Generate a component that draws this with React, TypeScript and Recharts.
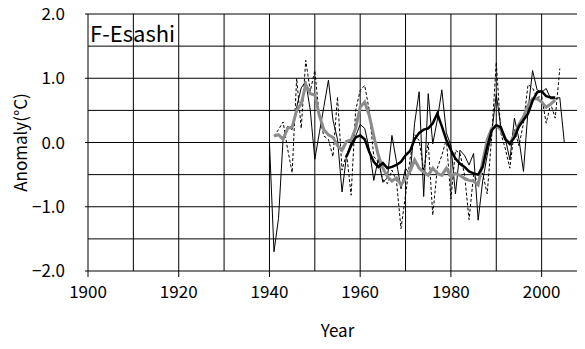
import { LineChart, Line, XAxis, YAxis, ReferenceLine } from "recharts";

const FONT = '"Noto Sans CJK JP", "DejaVu Sans", sans-serif';

// thin solid line: yearly anomaly, 1940-2005
const solidStart = 1940;
const solidAnnual = [
  0.0, -1.7, -1.18, 0.05, 0.25, 0.2, 0.55, 0.85, 0.95, 0.5,
  -0.26, 0.15, 0.56, 0.97, 0.35, 0.05, -0.77, -0.2, 0.0, 0.1,
  0.28, 0.22, -0.1, -0.59, -0.25, -0.62, -0.55, 0.11, -0.3, -0.72,
  -0.4, -0.5, 0.3, 0.79, -0.84, 0.76, -0.02, 0.35, 0.82, 0.15,
  -0.05, -0.8, -0.12, -0.2, -0.35, -0.17, -1.21, -0.6, -0.2, 0.15,
  0.75, 0.25, 0.06, -0.27, 0.38, 0.05, -0.45, 0.5, 1.12, 0.82,
  0.78, 0.84, 0.68, 0.68, 0.7, 0.0,
];

// thin dashed line: yearly anomaly, 1941-2004
const dashedStart = 1941;
const dashedAnnual = [
  0.1, 0.2, 0.32, -0.1, -0.47, 1.0, 0.22, 1.28, 0.8,
  1.12, 0.4, 0.1, 0.05, -0.22, 0.71, -0.43, -0.17, -0.82, 0.5,
  0.81, 0.89, 0.5, -0.22, -0.3, -0.58, -0.64, -0.43, -0.6, -1.34,
  -0.82, -0.25, 0.12, 0.03, -0.43, 0.0, -1.13, -0.4, -0.2, 0.05,
  -0.88, -0.12, -0.17, -0.5, -1.2, -0.5, -0.62, -0.48, -0.8, 0.1,
  1.25, 0.15, -0.1, -0.4, 0.2, -0.05, 0.3, 0.9, 0.85, 0.7,
  0.72, 0.3, 0.6, 0.38, 1.15,
];

// thick grey line: smoothed dashed series, 1941-2003
const greyStart = 1941;
const greyMean = [
  0.1, 0.12, 0.05, 0.22, 0.24, 0.5, 0.6, 0.9, 0.76,
  0.74, 0.42, 0.2, 0.12, 0.08, -0.05, -0.12, 0.02, 0.04, 0.22,
  0.55, 0.63, 0.42, 0.1, -0.2, -0.4, -0.53, -0.6, -0.55, -0.66,
  -0.56, -0.45, -0.27, -0.4, -0.46, -0.51, -0.4, -0.48, -0.51, -0.4,
  -0.53, -0.48, -0.51, -0.56, -0.59, -0.6, -0.66, -0.3, 0.04, 0.22,
  0.26, 0.2, 0.06, -0.02, 0.12, 0.28, 0.4, 0.58, 0.68, 0.68,
  0.63, 0.55, 0.6, 0.66,
];

// thick black line: smoothed solid series, 1957-2003
const blackStart = 1957;
const blackMean = [
  -0.22, -0.05, 0.08,
  0.11, 0.05, -0.15, -0.3, -0.38, -0.32, -0.4, -0.38, -0.35, -0.3,
  -0.2, -0.13, 0.05, 0.15, 0.2, 0.22, 0.3, 0.45, 0.25, 0.04,
  -0.12, -0.25, -0.33, -0.38, -0.45, -0.48, -0.5, -0.38, -0.07, 0.19,
  0.27, 0.24, 0.05, -0.02, 0.08, 0.25, 0.35, 0.45, 0.65, 0.78,
  0.8, 0.72, 0.7, 0.7,
];

const xTicks = [1900, 1920, 1940, 1960, 1980, 2000];
const yTicks = [-2, -1, 0, 1, 2];
const decadeLines = [1910, 1920, 1930, 1940, 1950, 1960, 1970, 1980, 1990, 2000];
const halfLines = [-1.5, -1, -0.5, 0, 0.5, 1, 1.5, 2];

const pick = (values: number[], start: number, year: number) => {
  const v = values[year - start];
  return v === undefined ? null : v;
};

const rows = [] as Record<string, number | null>[];
for (let year = 1940; year <= 2005; year++) {
  rows.push({
    year,
    solid: pick(solidAnnual, solidStart, year),
    dashed: pick(dashedAnnual, dashedStart, year),
    grey: pick(greyMean, greyStart, year),
    black: pick(blackMean, blackStart, year),
  });
}

const tickStyle = { fontSize: 17, fill: "#000", fontFamily: FONT };
const fmtY = (v: number) => v.toFixed(1).replace("-", "\u2212");

export default function App() {
  return (
    // pull the chart into the page corner so the top tick label is not clipped
    <div
      style={{
        position: "relative",
        margin: "-8px 0 0 -8px",
        width: 585,
        height: 349,
        overflow: "hidden",
      }}
    >
      <LineChart
        width={598}
        height={349}
        data={rows}
        margin={{ top: 14, right: 11, bottom: 0, left: 0 }}
      >
        {halfLines.map((v) => (
          <ReferenceLine key={"h" + v} y={v} stroke="#000" strokeWidth={1} />
        ))}
        {decadeLines.map((yr) => (
          <ReferenceLine key={"v" + yr} x={yr} stroke="#000" strokeWidth={1} />
        ))}
        <XAxis
          dataKey="year"
          type="number"
          domain={[1900, 2010]}
          ticks={xTicks}
          height={78}
          tickSize={6}
          tickMargin={9}
          tick={tickStyle}
          stroke="#000"
          label={{
            value: "Year",
            position: "insideBottom",
            offset: 12,
            style: { fontSize: 17, fill: "#000", fontFamily: FONT },
          }}
        />
        <YAxis
          type="number"
          domain={[-2, 2]}
          ticks={yTicks}
          width={88}
          tickSize={3}
          tickMargin={20}
          tick={tickStyle}
          tickFormatter={fmtY}
          stroke="#000"
          label={{
            value: "Anomaly(°C)",
            angle: -90,
            position: "insideLeft",
            offset: 21,
            style: { fontSize: 17, fill: "#000", fontFamily: FONT, textAnchor: "middle" },
          }}
        />
        <Line
          dataKey="solid"
          type="linear"
          stroke="#000"
          strokeWidth={1}
          dot={false}
          isAnimationActive={false}
        />
        <Line
          dataKey="dashed"
          type="linear"
          stroke="#000"
          strokeWidth={1}
          strokeDasharray="3 2"
          dot={false}
          isAnimationActive={false}
        />
        <Line
          dataKey="grey"
          type="linear"
          stroke="#8c8c8c"
          strokeWidth={3}
          dot={false}
          isAnimationActive={false}
        />
        <Line
          dataKey="black"
          type="linear"
          stroke="#000"
          strokeWidth={2.5}
          dot={false}
          isAnimationActive={false}
        />
      </LineChart>
      <svg
        width={585}
        height={349}
        style={{ position: "absolute", left: 0, top: 0, pointerEvents: "none" }}
      >
        <text x={90} y={42} fontSize={22} fontFamily={FONT} fill="#000">
          F-Esashi
        </text>
      </svg>
    </div>
  );
}
